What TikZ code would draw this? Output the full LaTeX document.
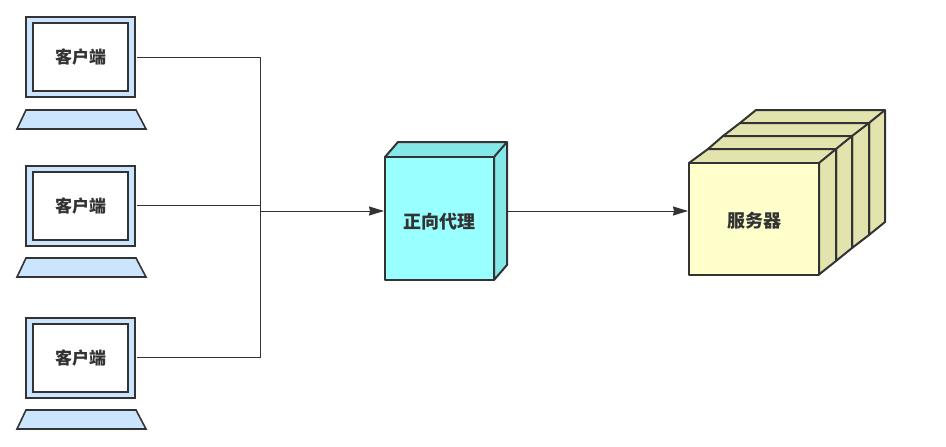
\documentclass[tikz,border=0pt]{standalone}
\usepackage{fontspec}
\setmainfont{Noto Sans CJK SC}
\usetikzlibrary{arrows.meta}
\definecolor{linegray}{HTML}{333333}
\definecolor{clientblue}{HTML}{CCE5FF}
\definecolor{proxyfront}{HTML}{99FFFF}
\definecolor{proxyside}{HTML}{84E8E8}
\definecolor{serverfront}{HTML}{FFFFCC}
\definecolor{serverside}{HTML}{E3E3AE}

\tikzstyle{every node}=[font={\fontsize{17}{19}\selectfont\bfseries}, text=linegray, inner sep=0pt]
\tikzstyle{screen}=[draw=linegray, line width=2pt, fill=clientblue, minimum width=109pt, minimum height=80pt]
\tikzstyle{panel}=[draw=linegray, line width=2pt, fill=white, minimum width=95pt, minimum height=68pt]
\tikzstyle{keyboard}=[draw=linegray, line width=1.6pt, fill=clientblue]
\tikzstyle{box}=[draw=linegray, line width=2pt, line join=round]
\tikzstyle{title}=[font={\fontsize{18}{20}\selectfont\bfseries}]
\tikzstyle{link}=[draw=linegray, line width=1pt]
\tikzstyle{tip}=[-{Stealth[length=15pt,width=9pt,inset=1pt]}]

\begin{document}
\begin{tikzpicture}[x=1pt,y=-1pt]
    \useasboundingbox (0,0) rectangle (946,447);

    % clients
    \node [screen] (screen1) at (80.5,57) {};
    \node [panel] (client1) at (80.5,57) {客户端};
    \draw [keyboard] (26,110) -- (136,110) -- (146,129) -- (17,129) -- cycle;

    \node [screen] (screen2) at (80.5,205.5) {};
    \node [panel] (client2) at (80.5,205.5) {客户端};
    \draw [keyboard] (26,258) -- (136,258) -- (146,277) -- (17,277) -- cycle;

    \node [screen] (screen3) at (80.5,357.5) {};
    \node [panel] (client3) at (80.5,357.5) {客户端};
    \draw [keyboard] (26,410) -- (136,410) -- (146,429) -- (17,429) -- cycle;

    % proxy
    \draw [box, fill=proxyside] (385,157) -- (398,142) -- (507,142) -- (507,265) -- (494,280) -- (494,157) -- cycle;
    \draw [box] (494,157) -- (507,142);
    \node [box, fill=proxyfront, minimum width=109pt, minimum height=123pt] (proxy) at (439.5,218.5) {};
    \node [title] (proxytext) at (439.5,221.5) {正向代理};

    % servers
    \draw [box, fill=serverside] (740,123) -- (756,110) -- (885,110) -- (885,222) -- (869,235) -- (869,123) -- cycle;
    \draw [box] (869,123) -- (885,110);
    \draw [box, fill=serverside] (723,136) -- (740,123) -- (869,123) -- (869,235) -- (852,248) -- (852,136) -- cycle;
    \draw [box] (852,136) -- (869,123);
    \draw [box, fill=serverside] (708,149) -- (723,136) -- (852,136) -- (852,248) -- (836,261) -- (836,149) -- cycle;
    \draw [box] (836,149) -- (852,136);
    \draw [box, fill=serverside] (689,163) -- (708,149) -- (836,149) -- (836,261) -- (819,274.5) -- (819,163) -- cycle;
    \draw [box] (819,163) -- (836,149);
    \node [box, fill=serverfront, minimum width=130pt, minimum height=112pt] (server) at (754,219) {};
    \node [title] (servertext) at (754,221) {服务器};

    % links
    \coordinate (hub) at (260,211);
    \coordinate (proxyin) at (384,211);
    \coordinate (proxyout) at (507,211);
    \coordinate (serverin) at (688,211);
    \draw [link] ([xshift=1pt]screen1.east) -| (hub);
    \draw [link] ([xshift=1pt]screen2.east) -| (hub);
    \draw [link] ([xshift=1pt]screen3.east) -| (hub);
    \draw [link, tip] (hub) -- (proxyin);
    \draw [link, tip] (proxyout) -- (serverin);
\end{tikzpicture}
\end{document}
